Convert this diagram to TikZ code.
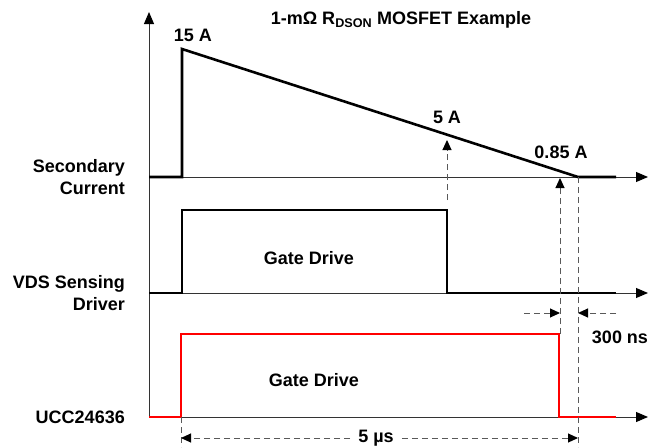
\documentclass[tikz,border=0pt]{standalone}
\usepackage{fontspec}
\setmainfont{Liberation Sans}
\usepackage{tikz}
\usetikzlibrary{arrows.meta}
\usetikzlibrary{positioning}

\tikzset{
  lbl/.style={font=\fontsize{18}{22}\selectfont\bfseries, inner sep=0pt, align=right},
  txt/.style={font=\fontsize{18}{22}\selectfont\bfseries, inner sep=1pt},
  axis/.style={line width=1pt, black!80, -{Triangle[length=12pt,width=10pt,color=black]}},
  wave/.style={line width=2.6pt, line join=miter},
  redwave/.style={wave, red, line width=2.3pt},
  dim/.style={line width=1pt, black!65, dash pattern=on 6pt off 4pt},
  dimarr/.style={dim, -{Triangle[length=10pt,width=9pt,color=black]}},
}

\begin{document}
\begin{tikzpicture}[x=1pt,y=-1pt]
    \useasboundingbox (0,0) rectangle (650,447);

    % axes
    \coordinate (o) at (149,417);
    \coordinate (top) at (149,12);
    \coordinate (sec0) at (149,177);  \coordinate (sec1) at (648,177);
    \coordinate (vds0) at (149,293);  \coordinate (vds1) at (648,293);
    \coordinate (ucc0) at (149,417);  \coordinate (ucc1) at (648,417);

    \draw[axis] (o) -- (top);
    \foreach \n in {sec,vds,ucc}
        \draw[axis] (\n0) -- (\n1);

    % signal names
    \node[lbl, left=24pt of sec0] (secname) {Secondary\\Current};
    \node[lbl, left=24pt of vds0] (vdsname) {VDS Sensing\\Driver};
    \node[lbl, left=24pt of ucc0] (uccname) {UCC24636};

    % waveforms
    \coordinate (peak) at (182,49);
    \coordinate (zero) at (578,177);
    \draw[wave] (sec0) -- (182,177) -- (peak) -- (zero) -- (616,177);
    \draw[wave] (vds0) -- (182,293) -- (182,210) -- (447,210) -- (447,293) -- (616,293);
    \draw[redwave] (ucc0) -- (181,417) -- (181,334) -- (559,334) -- (559,417) -- (616,417);

    % labels
    \node[txt] (title) at (401,20) {1-mΩ R\textsubscript{DSON} MOSFET Example};
    \node[txt] (i15) at (193,35) {15 A};
    \node[txt] (i5) at (447,117) {5 A};
    \node[txt] (i085) at (561,152) {0.85 A};
    \node[txt] (gd1) at (309,258) {Gate Drive};
    \node[txt] (gd2) at (314,380) {Gate Drive};
    \node[txt] (t300) at (620,337) {300 ns};
    \node[txt, inner sep=8pt] (t5) at (376,438) {5 µs};

    % timing marks
    \coordinate (vdsoff) at (447,200);
    \coordinate (vdsoffi) at (447,140);
    \coordinate (uccoff) at (560,334);
    \coordinate (uccoffi) at (560,178);
    \coordinate (zerobot) at (578,447);
    \coordinate (uccon) at (181,417);
    \coordinate (ucconbot) at (181,447);
    \coordinate (d300a) at (524,313);
    \coordinate (d300b) at (560,313);
    \coordinate (d300c) at (616,313);
    \coordinate (d300d) at (578,313);
    \coordinate (d5a) at (181,438);
    \coordinate (d5b) at (578,438);

    \draw[dimarr] (vdsoff) -- (vdsoffi);
    \draw[dimarr] (uccoff) -- (uccoffi);
    \draw[dim] (zero) -- (zerobot);
    \draw[dim] (uccon) -- (ucconbot);
    \draw[dimarr] (d300a) -- (d300b);
    \draw[dimarr] (d300c) -- (d300d);
    \draw[dimarr] (t5.west) -- (d5a);
    \draw[dimarr] (t5.east) -- (d5b);
\end{tikzpicture}
\end{document}
